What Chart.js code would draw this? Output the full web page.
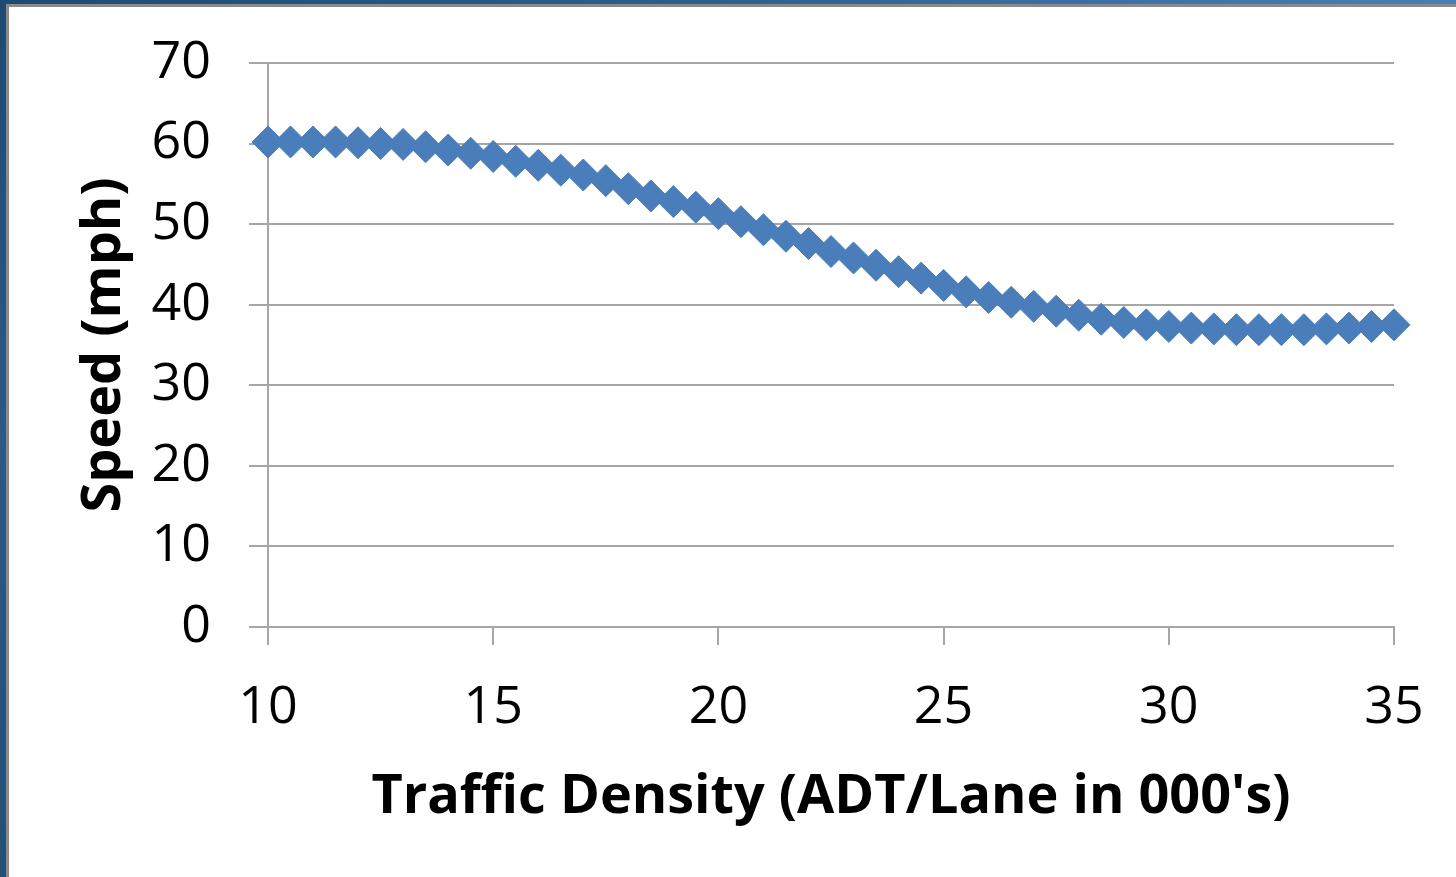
<!DOCTYPE html>
<html>
<head>
<meta charset="utf-8">
<script src="https://cdn.jsdelivr.net/npm/chart.js@4"></script>
<style>
  html, body { margin: 0; padding: 0; background: #ffffff; }
  #wrap { position: relative; width: 1456px; height: 877px; overflow: hidden; background: #fff; }
  #topband { position: absolute; left: 0; top: 0; width: 1456px; height: 4px;
             background: linear-gradient(90deg, #1d4a73 0%, #2f5f8f 50%, #4a7fb5 100%); }
  #topline { position: absolute; left: 0; top: 4px; width: 1456px; height: 3px; background: #8a8a8a; }
  #leftband { position: absolute; left: 0; top: 0; width: 6px; height: 877px;
              background: linear-gradient(180deg, #1d4a73 0%, #2b5a86 50%, #234f78 100%); }
  #leftline { position: absolute; left: 6px; top: 4px; width: 3px; height: 873px; background: #8a8a8a; }
  canvas { position: absolute; left: 0; top: 0; }
</style>
</head>
<body>
<div id="wrap">
  <canvas id="c" width="1456" height="877"></canvas>
  <div id="topband"></div>
  <div id="topline"></div>
  <div id="leftband"></div>
  <div id="leftline"></div>
</div>
<script>
// Traffic density (thousand ADT per lane), sampled every 500
const density = [
  10, 10.5, 11, 11.5, 12, 12.5, 13, 13.5, 14, 14.5,
  15, 15.5, 16, 16.5, 17, 17.5, 18, 18.5, 19, 19.5,
  20, 20.5, 21, 21.5, 22, 22.5, 23, 23.5, 24, 24.5,
  25, 25.5, 26, 26.5, 27, 27.5, 28, 28.5, 29, 29.5,
  30, 30.5, 31, 31.5, 32, 32.5, 33, 33.5, 34, 34.5, 35
];
// Average speed (mph) at each density
const speed = [
  60.2, 60.2, 60.2, 60.2, 60.1, 60.0, 59.9, 59.6, 59.2, 58.8,
  58.4, 57.8, 57.3, 56.7, 56.1, 55.4, 54.4, 53.5, 52.8, 52.1,
  51.3, 50.3, 49.3, 48.5, 47.6, 46.6, 45.8, 44.9, 44.1, 43.3,
  42.4, 41.6, 40.9, 40.3, 39.8, 39.2, 38.7, 38.2, 37.8, 37.5,
  37.3, 37.1, 37.0, 36.9, 36.9, 36.9, 36.9, 37.0, 37.1, 37.3, 37.5
];
const xTitle = "Traffic Density (ADT/Lane in 000's)";
const yTitle = "Speed (mph)";

const points = density.map((d, i) => ({ x: d, y: speed[i] }));

const gridColor = '#a6a6a6';
const fontFamily = '"Open Sans", "Noto Sans", sans-serif';
const xTickFont = { family: fontFamily, size: 52 };
// tighter line height keeps the top tick label from pushing the plot down
const yTickFont = { family: fontFamily, size: 52, lineHeight: 0.9 };
const titleFont = { family: fontFamily, size: 54, weight: 'bold' };

// Plot area: left 268, top 63, right 1394, bottom 627
const padLeft = 72, padTop = 63, padRight = 62, padBottom = 47;
const plotLeft = 268, plotBottom = 627;

new Chart(document.getElementById('c'), {
  type: 'scatter',
  data: {
    datasets: [{
      data: points,
      pointStyle: 'rectRot',
      pointRadius: 16,
      pointHoverRadius: 16,
      pointBackgroundColor: '#4A7EBB',
      pointBorderColor: '#4A7EBB',
      pointBorderWidth: 1,
      showLine: false,
      clip: false
    }]
  },
  options: {
    responsive: false,
    animation: false,
    events: [],
    layout: { padding: { left: padLeft, top: padTop, right: padRight, bottom: padBottom } },
    plugins: { legend: { display: false }, tooltip: { enabled: false } },
    scales: {
      x: {
        type: 'linear',
        min: 10, max: 35,
        afterFit: s => { s.height = 877 - padBottom - plotBottom; },
        ticks: { stepSize: 5, color: '#000', font: xTickFont, padding: 32, maxRotation: 0 },
        grid: { drawOnChartArea: false, drawTicks: true, tickLength: 18, color: gridColor, lineWidth: 2 },
        border: { display: true, color: gridColor, width: 2 },
        title: { display: true, text: xTitle, color: '#000', font: titleFont, padding: 0 }
      },
      y: {
        type: 'linear',
        min: 0, max: 70,
        afterFit: s => { s.width = plotLeft - padLeft; },
        ticks: { stepSize: 10, color: '#000', font: yTickFont, padding: 38 },
        grid: { drawOnChartArea: true, drawTicks: true, tickLength: 19, color: gridColor, lineWidth: 2 },
        border: { display: true, color: gridColor, width: 2 },
        title: { display: true, text: yTitle, color: '#000', font: titleFont, padding: 0 }
      }
    }
  }
});
</script>
</body>
</html>
